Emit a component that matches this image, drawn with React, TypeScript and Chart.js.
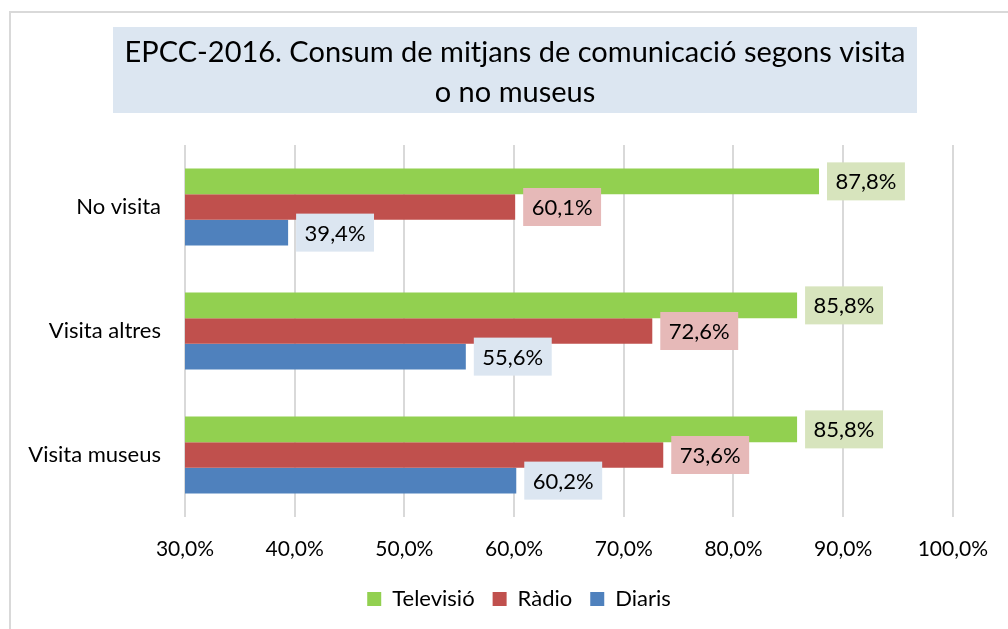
import React, { useEffect, useRef } from "react";
import { Chart, registerables } from "chart.js";

Chart.register(...registerables);

const categories = ["No visita", "Visita altres", "Visita museus"];
const seriesNames = ["Televisió", "Ràdio", "Diaris"];
const televisio = [87.8, 85.8, 85.8];
const radio = [60.1, 72.6, 73.6];
const diaris = [39.4, 55.6, 60.2];
const xTicks = [30, 40, 50, 60, 70, 80, 90, 100];
const titleLines = [
  "EPCC-2016. Consum de mitjans de comunicació segons visita",
  "o no museus",
];

const barColors = ["#92D050", "#C0504D", "#4F81BD"];
const labelBg = ["#D7E4BD", "#E6B9B8", "#DCE6F1"];
const FONT = "Lato, 'Open Sans', sans-serif";

const fmt = (v: number) => v.toFixed(1).replace(".", ",") + "%";

const titlePlugin = {
  id: "titleBox",
  beforeDraw(chart: any) {
    const ctx = chart.ctx;
    ctx.save();
    ctx.fillStyle = "#DCE6F1";
    ctx.fillRect(113, 27, 804, 86);
    ctx.fillStyle = "#000";
    ctx.font = `29px ${FONT}`;
    ctx.textAlign = "center";
    ctx.textBaseline = "middle";
    ctx.fillText(titleLines[0], 515, 53);
    ctx.fillText(titleLines[1], 515, 93);
    ctx.restore();
  },
};

const legendShift = {
  id: "legendShift",
  afterLayout(chart: any) {
    if (chart.legend) {
      chart.legend.left += 40;
      chart.legend.right += 40;
    }
  },
};

const labelPlugin = {
  id: "valueLabels",
  afterDatasetsDraw(chart: any) {
    const ctx = chart.ctx;
    ctx.save();
    ctx.font = `22px ${FONT}`;
    ctx.textAlign = "center";
    ctx.textBaseline = "middle";
    chart.data.datasets.forEach((ds: any, di: number) => {
      const meta = chart.getDatasetMeta(di);
      meta.data.forEach((el: any, i: number) => {
        const text = fmt(ds.data[i]);
        const tw = ctx.measureText(text).width;
        const w = tw + 17;
        const h = 38;
        const x0 = el.x + 8;
        const y0 = el.y - h / 2;
        ctx.fillStyle = labelBg[di];
        ctx.fillRect(x0, y0, w, h);
        ctx.fillStyle = "#000";
        ctx.fillText(text, x0 + w / 2, el.y + 1);
      });
    });
    ctx.restore();
  },
};

export default function App() {
  const ref = useRef<HTMLCanvasElement | null>(null);

  useEffect(() => {
    if (!ref.current) return;
    const chart = new Chart(ref.current, {
      type: "bar",
      data: {
        labels: categories,
        datasets: [televisio, radio, diaris].map((d, i) => ({
          label: seriesNames[i],
          data: d,
          backgroundColor: barColors[i],
          borderWidth: 0,
          categoryPercentage: 0.62,
          barPercentage: 1.0,
        })),
      },
      options: {
        indexAxis: "y",
        animation: false,
        responsive: false,
        devicePixelRatio: 1,
        layout: { padding: { left: 0, right: 50, top: 145, bottom: 9 } },
        scales: {
          x: {
            min: 30,
            max: 100,
            afterBuildTicks: (s: any) => {
              s.ticks = xTicks.map((v) => ({ value: v }));
            },
            afterFit: (s: any) => {
              s.height = 53;
            },
            grid: { color: "#D9D9D9", lineWidth: 2, drawTicks: false },
            border: { display: false },
            ticks: {
              padding: 20,
              color: "#000",
              font: { family: FONT, size: 21 },
              callback: (v: any) => fmt(Number(v)),
              maxRotation: 0,
            },
          },
          y: {
            afterFit: (s: any) => {
              s.width = 185;
            },
            grid: { display: false, drawTicks: false },
            border: { display: false },
            ticks: {
              padding: 24,
              color: "#000",
              font: { family: FONT, size: 22 },
            },
          },
        },
        plugins: {
          title: { display: false },
          tooltip: { enabled: false },
          legend: {
            position: "bottom",
            labels: {
              boxWidth: 14,
              boxHeight: 14,
              padding: 18,
              color: "#000",
              font: { family: FONT, size: 22 },
            },
          },
        },
      },
      plugins: [titlePlugin, labelPlugin, legendShift],
    } as any);
    return () => chart.destroy();
  }, []);

  return (
    <div style={{ position: "fixed", left: 0, top: 0, width: 1008, height: 629, overflow: "hidden", background: "#fff" }}>
      <div
        style={{
          position: "absolute",
          left: 9,
          top: 11,
          width: 1100,
          height: 700,
          border: "2px solid #D9D9D9",
          boxSizing: "border-box",
        }}
      />
      <canvas
        ref={ref}
        width={1008}
        height={629}
        style={{ position: "absolute", left: 0, top: 0, width: 1008, height: 629 }}
      />
    </div>
  );
}
